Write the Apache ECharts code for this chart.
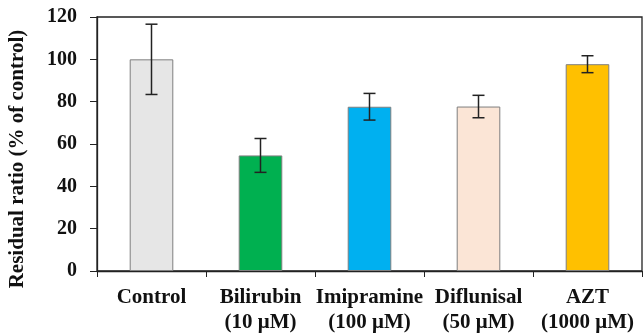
<!DOCTYPE html>
<html>
<head>
<meta charset="utf-8">
<script src="https://cdn.jsdelivr.net/npm/echarts@6/dist/echarts.min.js"></script>
<style>html,body{margin:0;padding:0;background:#fff;}#c{width:643px;height:336px;}</style>
</head>
<body>
<div id="c"></div>
<script>
var categories = ['Control', 'Bilirubin\n(10 μM)', 'Imipramine\n(100 μM)', 'Diflunisal\n(50 μM)', 'AZT\n(1000 μM)'];
var values = [100, 54.6, 77.6, 77.7, 97.7];
var errors = [16.6, 8.0, 6.3, 5.3, 4.0];
var barColors = ['#e6e6e6', '#00b050', '#00b0f0', '#fbe5d6', '#ffc000'];
var yTicks = [0, 20, 40, 60, 80, 100, 120];
var yTitle = 'Residual ratio (% of control)';

var chart = echarts.init(document.getElementById('c'));
var font = '"Liberation Serif", "Times New Roman", serif';
chart.setOption({
  animation: false,
  grid: { left: 97, top: 17, right: 1, bottom: 65, show: true, borderColor: '#222', borderWidth: 1.3, backgroundColor: 'transparent' },
  graphic: [{
    type: 'text',
    x: 18, y: 159,
    rotation: Math.PI / 2,
    style: { text: yTitle, fill: '#111', font: 'bold 21px ' + font, textAlign: 'center', textVerticalAlign: 'middle' }
  }],
  xAxis: {
    type: 'category',
    data: categories,
    axisLine: { lineStyle: { color: '#222', width: 1.3 } },
    axisTick: { show: true, length: 6, alignWithLabel: false, lineStyle: { color: '#222' } },
    axisLabel: { color: '#111', fontFamily: font, fontWeight: 'bold', fontSize: 21, lineHeight: 25, margin: 14, interval: 0 }
  },
  yAxis: {
    type: 'value',
    min: 0, max: 120, interval: 20,
    splitLine: { show: false },
    axisLine: { show: true, lineStyle: { color: '#222', width: 1.3 } },
    axisTick: { show: true, length: 7, lineStyle: { color: '#222' } },
    axisLabel: { color: '#111', fontFamily: font, fontWeight: 'bold', fontSize: 20, margin: 20,
      formatter: function (v) { return yTicks.indexOf(v) >= 0 ? String(v) : ''; } }
  },
  series: [
    {
      type: 'bar',
      barWidth: '40%',
      data: values.map(function (v, i) {
        return { value: v, itemStyle: { color: barColors[i], borderColor: '#7f7f7f', borderWidth: 1 } };
      })
    },
    {
      type: 'custom',
      data: values.map(function (v, i) { return [i, v - errors[i], v + errors[i]]; }),
      renderItem: function (params, api) {
        var lo = api.coord([api.value(0), api.value(1)]);
        var hi = api.coord([api.value(0), api.value(2)]);
        var hw = 6;
        var st = { stroke: '#222', lineWidth: 1.5 };
        return {
          type: 'group',
          children: [
            { type: 'line', shape: { x1: lo[0], y1: lo[1], x2: hi[0], y2: hi[1] }, style: st },
            { type: 'line', shape: { x1: lo[0] - hw, y1: lo[1], x2: lo[0] + hw, y2: lo[1] }, style: st },
            { type: 'line', shape: { x1: hi[0] - hw, y1: hi[1], x2: hi[0] + hw, y2: hi[1] }, style: st }
          ]
        };
      },
      z: 10
    }
  ]
});
</script>
</body>
</html>
